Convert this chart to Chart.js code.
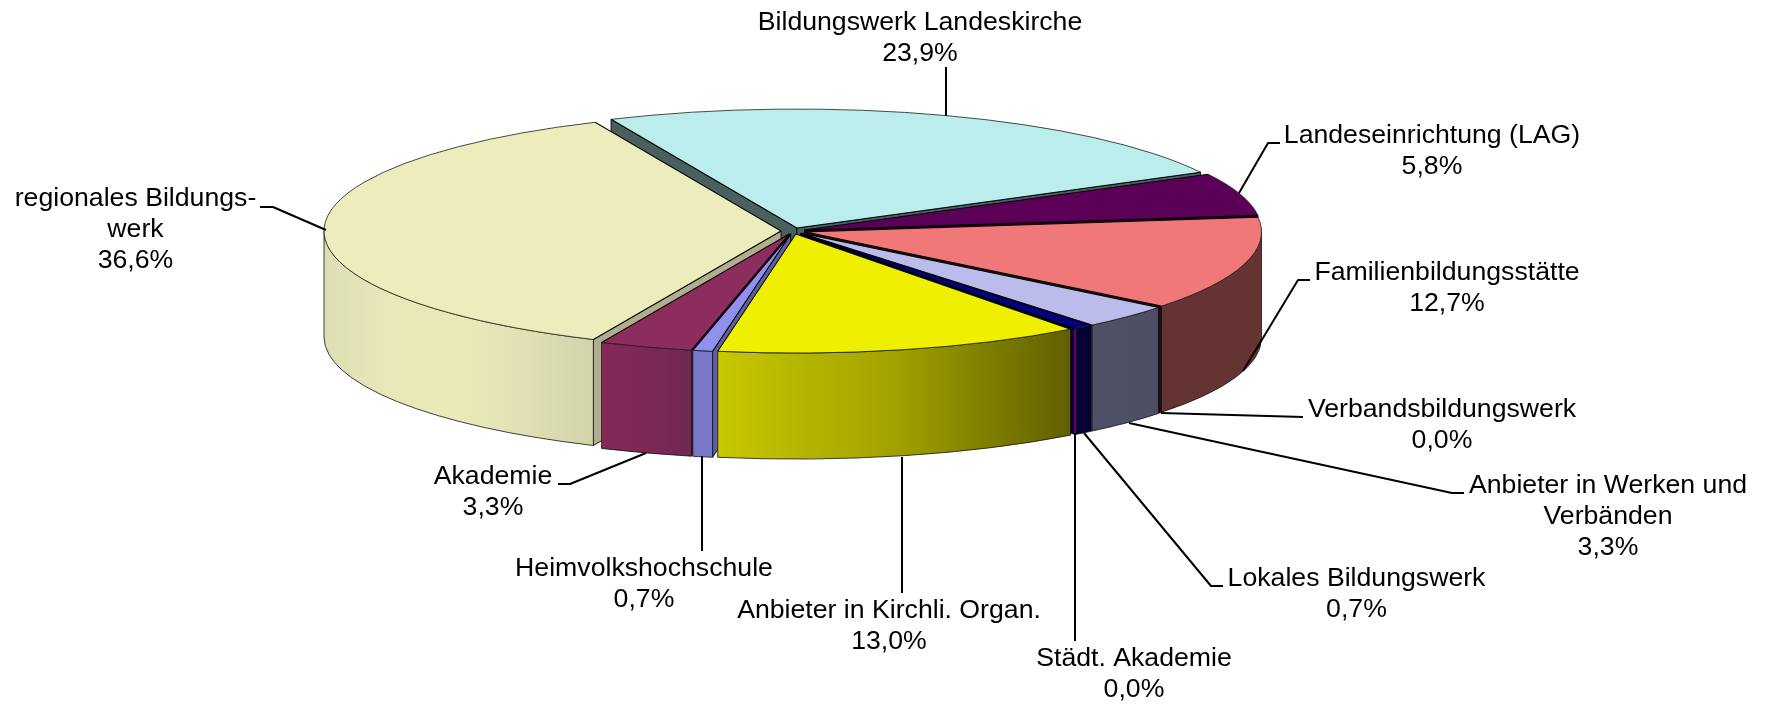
<!DOCTYPE html>
<html><head><meta charset="utf-8">
<style>html,body{margin:0;padding:0;background:#fff}canvas{display:block}</style>
<script src="https://cdn.jsdelivr.net/npm/chart.js@4/dist/chart.umd.js"></script>
</head><body>
<canvas id="c" width="1766" height="704"></canvas>
<script>
const categories = ['Bildungswerk Landeskirche','Landeseinrichtung (LAG)','Familienbildungsstätte','Verbandsbildungswerk','Anbieter in Werken und\nVerbänden','Lokales Bildungswerk','Städt. Akademie','Anbieter in Kirchli. Organ.','Heimvolkshochschule','Akademie','regionales Bildungs-\nwerk'];
const shares = [23.9,5.8,12.7,0.0,3.3,0.7,0.0,13.0,0.7,3.3,36.6];
const topColors = ['#BBEDED','#5C0057','#F07878','#330033','#BCBCEC','#000080','#660066','#EFEF00','#9090EE','#8C2D5E','#ECECBC'];
const wallStops = [['#4A6060'],['#2E002C'],['#663333'],['#1A0A1A'],['#505068','#4D4D62'],['#000033'],['#660066'],['#C8C800','#B4B400','#A2A200','#808000','#606000'],['#7878C8'],['#862858','#722850'],['#DEDEB6','#E8E8B8','#EAEAB8','#E0E0B4','#D3D3AA']];
const faceColors = ['#4A6060','#2E002C','#2A1010','#1A0A1A','#505068','#000033','#660066','#606000','#5F5F9A','#5A1A3A','#AFAF8F'];
// label block centre / first baseline, then leader polyline
const labelPlaces = [[920,30],[1432,143],[1447,280],[1442,417],[1608,493],[1356.5,586],[1134,666],[889,618],[644,576],[493,484],[135.5,206]];
const leaders = [
 [[946,67],[946,116]],
 [[1280,143],[1268,143],[1239,193]],
 [[1310,280],[1298,280],[1243,371]],
 [[1303,417],[1161,413]],
 [[1464,493],[1452,493],[1129,423]],
 [[1223,586],[1211,586],[1084,433]],
 [[1075,433],[1075,641]],
 [[902,457],[902,593]],
 [[702,456],[702,551]],
 [[558,484],[570,484],[646,453]],
 [[260,207],[273,207],[326,230]]
];
const PIE = {radius:457, squash:119/457, depth:106, explode:12};
const FONT = '26.67px "Liberation Sans", Arial, sans-serif';
const LINE = 31;

function pivotY(chart){return (chart.chartArea.top+chart.chartArea.bottom)/2;}
function geom(arc,cy){
  return {R:arc.outerRadius,a:arc.startAngle,b:arc.endAngle,h:(arc.startAngle+arc.endAngle)/2,
          c:arc.endAngle-arc.startAngle,x:arc.x,y:cy+(arc.y-cy)*PIE.squash};
}
function rim(g,t){return [g.x+Math.cos(t)*g.R, g.y+Math.sin(t)*g.R*PIE.squash];}
function frontSpan(g){
  const T=2*Math.PI;
  for(const n of [-1,0,1]){
    const s=Math.max(g.a,n*T), e=Math.min(g.b,n*T+Math.PI);
    if(e>s) return [s,e];
  }
  return null;
}
const pie3d = {
  id:'pie3d',
  afterDatasetUpdate(chart){
    // every slice is pulled out of the pie along its own middle angle
    chart.getDatasetMeta(0).data.forEach(arc=>{
      const h=(arc.startAngle+arc.endAngle)/2;
      arc.x+=Math.cos(h)*PIE.explode;
      arc.y+=Math.sin(h)*PIE.explode;
    });
  },
  beforeDatasetDraw(chart){
    const ctx=chart.ctx, arcs=chart.getDatasetMeta(0).data, cy=pivotY(chart);
    const order=arcs.map((arc,i)=>{
      const g=geom(arc,cy);
      let m=Math.atan2(Math.sin(g.h),Math.cos(g.h));
      let d=Math.abs(m-Math.PI/2); if(d>Math.PI) d=2*Math.PI-d;
      return {i,g,d};
    }).sort((p,q)=>q.d-p.d);
    ctx.save();
    ctx.lineJoin='round';
    // radial cut faces that turn toward the viewer, far to near
    for(const {i,g} of order){
      if(g.c===0) continue;
      const faces=[];
      if(Math.cos(g.a)<0) faces.push(g.a);
      if(Math.cos(g.b)>0) faces.push(g.b);
      for(const t of faces){
        const p=rim(g,t);
        ctx.beginPath();
        ctx.moveTo(g.x,g.y);ctx.lineTo(p[0],p[1]);ctx.lineTo(p[0],p[1]+PIE.depth);ctx.lineTo(g.x,g.y+PIE.depth);ctx.closePath();
        ctx.fillStyle=faceColors[i];ctx.fill();
        ctx.strokeStyle='rgba(0,0,0,.85)';ctx.lineWidth=1;ctx.stroke();
      }
    }
    // outer walls
    for(const {i,g} of order){
      if(g.c===0) continue;
      const sp=frontSpan(g);
      if(!sp) continue;
      const x0=rim(g,sp[0])[0], x1=rim(g,sp[1])[0];
      const gr=ctx.createLinearGradient(Math.min(x0,x1),0,Math.max(x0,x1),0);
      const st=wallStops[i];
      if(st.length===1){gr.addColorStop(0,st[0]);gr.addColorStop(1,st[0]);}
      else st.forEach((col,k)=>gr.addColorStop(k/(st.length-1),col));
      ctx.beginPath();
      ctx.ellipse(g.x,g.y,g.R,g.R*PIE.squash,0,sp[0],sp[1],false);
      ctx.ellipse(g.x,g.y+PIE.depth,g.R,g.R*PIE.squash,0,sp[1],sp[0],true);
      ctx.closePath();
      ctx.fillStyle=gr;ctx.fill();
      ctx.strokeStyle='rgba(20,20,20,.8)';ctx.lineWidth=1;ctx.stroke();
    }
    // empty slices show only as a thin line on the wall
    arcs.forEach((arc,i)=>{
      const g=geom(arc,cy);
      if(g.c!==0) return;
      const p=rim(g,g.h);
      if(Math.sin(g.h)<=0) return;
      ctx.beginPath();ctx.moveTo(p[0],p[1]);ctx.lineTo(p[0],p[1]+PIE.depth);
      ctx.strokeStyle=wallStops[i][0];ctx.lineWidth=2.5;ctx.stroke();
    });
    ctx.restore();
    ctx.save();
    ctx.translate(0,cy);ctx.scale(1,PIE.squash);ctx.translate(0,-cy);
  },
  afterDatasetDraw(chart){
    const ctx=chart.ctx, arcs=chart.getDatasetMeta(0).data, cy=pivotY(chart);
    ctx.restore();
    ctx.save();
    ctx.lineJoin='round';
    arcs.forEach(arc=>{
      const g=geom(arc,cy);
      if(g.c===0) return;
      const p=rim(g,g.a), q=rim(g,g.b);
      ctx.beginPath();ctx.ellipse(g.x,g.y,g.R,g.R*PIE.squash,0,g.a,g.b,false);
      ctx.strokeStyle='rgba(30,30,30,.8)';ctx.lineWidth=1;ctx.stroke();
      ctx.beginPath();ctx.moveTo(p[0],p[1]);ctx.lineTo(g.x,g.y);ctx.lineTo(q[0],q[1]);
      ctx.strokeStyle='rgba(0,0,0,.95)';ctx.lineWidth=1.1;ctx.stroke();
    });
    ctx.restore();
  },
  afterDraw(chart){
    const ctx=chart.ctx;
    ctx.save();
    ctx.strokeStyle='#000';ctx.lineWidth=2;ctx.lineJoin='round';
    leaders.forEach(pts=>{
      ctx.beginPath();
      pts.forEach((p,k)=>k?ctx.lineTo(p[0],p[1]):ctx.moveTo(p[0],p[1]));
      ctx.stroke();
    });
    ctx.fillStyle='#000';ctx.font=FONT;ctx.textAlign='center';ctx.textBaseline='alphabetic';
    categories.forEach((name,i)=>{
      const lines=name.split('\n').concat(shares[i].toFixed(1).replace('.',',')+'%');
      lines.forEach((t,k)=>ctx.fillText(t,labelPlaces[i][0],labelPlaces[i][1]+k*LINE));
    });
    ctx.restore();
  }
};
new Chart(document.getElementById('c'),{
  type:'pie',
  data:{labels:categories,datasets:[{data:shares,backgroundColor:topColors,borderWidth:0,hoverOffset:0,clip:false,radius:PIE.radius}]},
  options:{
    responsive:false,animation:false,events:[],rotation:-24,radius:PIE.radius,
    layout:{padding:{left:0,top:0,right:180,bottom:242}},
    plugins:{legend:{display:false},tooltip:{enabled:false},title:{display:false}}
  },
  plugins:[pie3d]
});
</script>
</body></html>
